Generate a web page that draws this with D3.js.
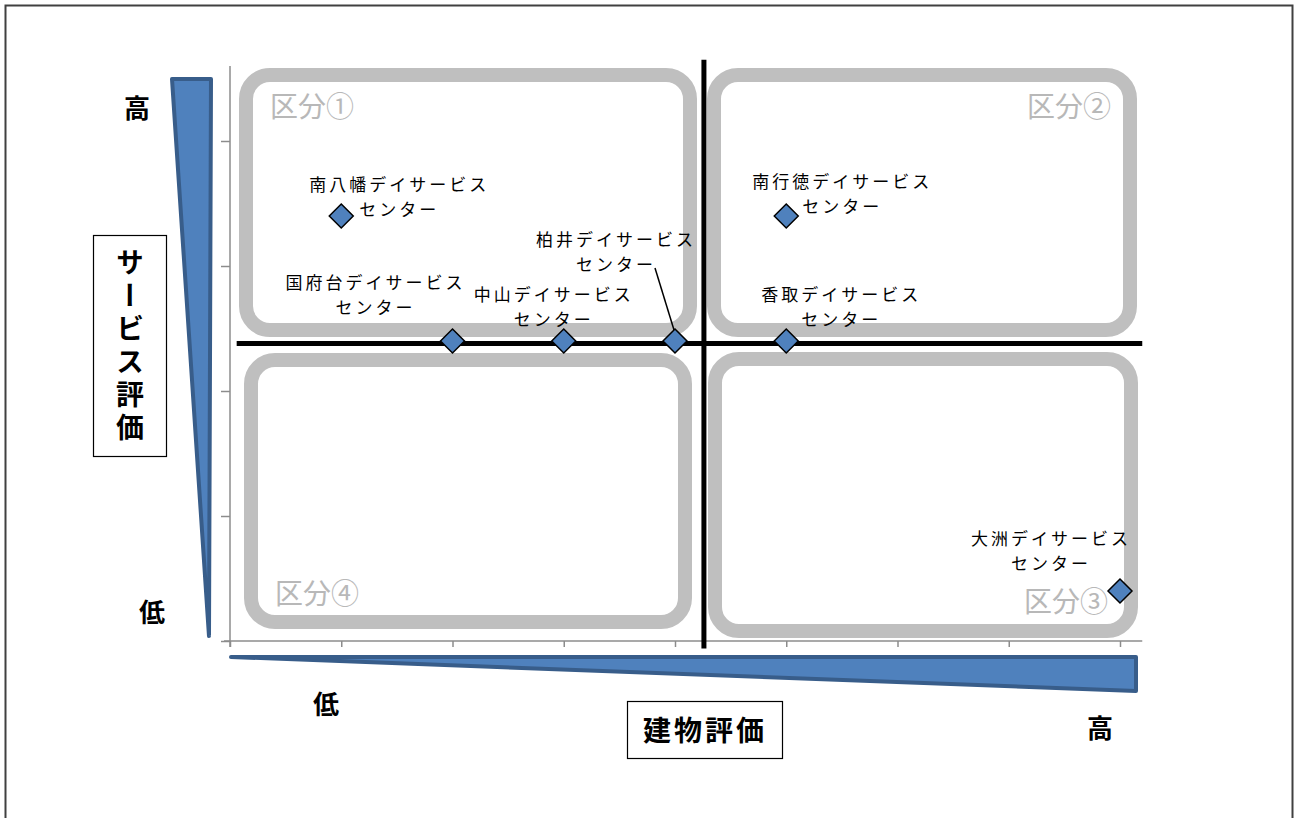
<!DOCTYPE html>
<html>
<head>
<meta charset="utf-8">
<script src="https://cdn.jsdelivr.net/npm/d3@7"></script>
<style>
  body { margin: 0; background: #fff; }
  text { font-family: "Noto Sans CJK JP", "Noto Sans", sans-serif; }
</style>
</head>
<body>
<svg id="chart"></svg>
<script>
var w = 1296;
var h = 818;

// facility names and scores (building score, service score)
var names = ["南八幡", "南行徳", "国府台", "中山", "柏井", "香取", "大洲"];
var buildingScore = [1, 5, 2, 3, 4, 5, 8];
var serviceScore = [3.4, 3.4, 2.4, 2.4, 2.4, 2.4, 0.4];
var xTicks = [0, 1, 2, 3, 4, 5, 6, 7, 8];
var yTicks = [0, 1, 2, 3, 4];
var divideX = 4.26;   // vertical divider (building score)
var divideY = 2.38;   // horizontal divider (service score)
var quadrantNames = ["区分①", "区分②", "区分③", "区分④"];

// label placement (pixels offset from the point)
var labelPos = [
	{ dx: 58, dy: -25 },
	{ dx: 56, dy: -28 },
	{ dx: -77, dy: -52 },
	{ dx: -10, dy: -40 },
	{ dx: -59, dy: -95 },
	{ dx: 55, dy: -40 },
	{ dx: -69, dy: -46 }
];

var svg = d3.select("#chart")
	.attr("width", w)
	.attr("height", h);

// outer frame
svg.append("rect")
	.attr("x", 5.5).attr("y", 5.5)
	.attr("width", 1287).attr("height", 830)
	.attr("fill", "none")
	.attr("stroke", "#404040")
	.attr("stroke-width", 2);

var x = d3.scaleLinear().domain([0, 8]).range([230, 1120]);
var y = d3.scaleLinear().domain([0, 4]).range([641, 141]);

// quadrant boxes (rounded, grey)
var boxes = [
	{ x0: 246, y0: 75, x1: 690, y1: 330, name: quadrantNames[0], tx: 270, ty: 117, anchor: "start" },
	{ x0: 714, y0: 75, x1: 1130, y1: 330, name: quadrantNames[1], tx: 1111, ty: 117, anchor: "end" },
	{ x0: 715, y0: 359, x1: 1131, y1: 631, name: quadrantNames[2], tx: 1108, ty: 612, anchor: "end" },
	{ x0: 251, y0: 360, x1: 685, y1: 622, name: quadrantNames[3], tx: 275, ty: 604, anchor: "start" }
];

svg.selectAll(".box")
	.data(boxes)
	.enter().append("rect")
	.attr("class", "box")
	.attr("x", d => d.x0)
	.attr("y", d => d.y0)
	.attr("width", d => d.x1 - d.x0)
	.attr("height", d => d.y1 - d.y0)
	.attr("rx", 24).attr("ry", 24)
	.attr("fill", "none")
	.attr("stroke", "#bfbfbf")
	.attr("stroke-width", 14);

svg.selectAll(".qname")
	.data(boxes)
	.enter().append("text")
	.attr("class", "qname")
	.attr("x", d => d.tx)
	.attr("y", d => d.ty)
	.attr("text-anchor", d => d.anchor)
	.attr("font-size", 28)
	.attr("fill", "#b8b8b8")
	.text(d => d.name);

// axes
var xAxis = d3.axisBottom(x).tickValues(xTicks).tickSize(6).tickFormat("");
var yAxis = d3.axisLeft(y).tickValues(yTicks).tickSize(9).tickFormat("");

var gx = svg.append("g").attr("transform", "translate(0," + y(0) + ")").call(xAxis);
gx.select(".domain").attr("d", "M" + (x(0) - 6) + ",0H" + x(8.2));
var gy = svg.append("g").attr("transform", "translate(" + x(0) + ",0)").call(yAxis);
gy.select(".domain").attr("d", "M0," + y(4.6) + "V" + (y(0) + 6));
svg.selectAll(".domain, .tick line")
	.attr("stroke", "#8c8c8c")
	.attr("stroke-width", 1.5);

// divider lines
svg.append("line")
	.attr("x1", x(0.06)).attr("x2", x(8.2))
	.attr("y1", y(divideY)).attr("y2", y(divideY))
	.attr("stroke", "#000").attr("stroke-width", 5);
svg.append("line")
	.attr("x1", x(divideX)).attr("x2", x(divideX))
	.attr("y1", y(4.65)).attr("y2", y(-0.06))
	.attr("stroke", "#000").attr("stroke-width", 5);

// points
var points = names.map((n, i) => ({
	name: n,
	bx: buildingScore[i],
	sy: serviceScore[i],
	dx: labelPos[i].dx,
	dy: labelPos[i].dy
}));

// leader line for 柏井
var kashii = points[4];
svg.append("line")
	.attr("x1", x(kashii.bx) - 20).attr("y1", y(kashii.sy) - 73)
	.attr("x2", x(kashii.bx) + 3).attr("y2", y(kashii.sy) + 2)
	.attr("stroke", "#000").attr("stroke-width", 1.5);

svg.selectAll(".pt")
	.data(points)
	.enter().append("path")
	.attr("class", "pt")
	.attr("d", "M0,-12L12,0L0,12L-12,0Z")
	.attr("transform", d => "translate(" + x(d.bx) + "," + y(d.sy) + ")")
	.attr("fill", "#4f81bd")
	.attr("stroke", "#000")
	.attr("stroke-width", 1.5);

var labels = svg.selectAll(".lbl")
	.data(points)
	.enter().append("text")
	.attr("class", "lbl")
	.attr("text-anchor", "middle")
	.attr("font-size", 17)
	.attr("letter-spacing", 3)
	.attr("fill", "#000");
labels.append("tspan")
	.attr("x", d => x(d.bx) + d.dx)
	.attr("y", d => y(d.sy) + d.dy)
	.text(d => d.name + "デイサービス");
labels.append("tspan")
	.attr("x", d => x(d.bx) + d.dx)
	.attr("y", d => y(d.sy) + d.dy + 25)
	.text("センター");

// wedges (blue arrows for axis direction)
var wedge = d3.line();
svg.append("path")
	.attr("d", wedge([[172, 79], [211, 79], [209, 636]]) + "Z")
	.attr("fill", "#4f81bd")
	.attr("stroke", "#385d8a")
	.attr("stroke-width", 4)
	.attr("stroke-linejoin", "round");
svg.append("path")
	.attr("d", wedge([[231, 657], [1136, 657], [1136, 691]]) + "Z")
	.attr("fill", "#4f81bd")
	.attr("stroke", "#385d8a")
	.attr("stroke-width", 4)
	.attr("stroke-linejoin", "round");

// high / low marks
var marks = [
	{ t: "高", x: 137, y: 118 },
	{ t: "低", x: 152, y: 622 },
	{ t: "低", x: 326, y: 714 },
	{ t: "高", x: 1100, y: 738 }
];
svg.selectAll(".mark")
	.data(marks)
	.enter().append("text")
	.attr("class", "mark")
	.attr("x", d => d.x)
	.attr("y", d => d.y)
	.attr("text-anchor", "middle")
	.attr("font-size", 26)
	.attr("font-weight", "bold")
	.text(d => d.t);

// axis title boxes
svg.append("rect")
	.attr("x", 93.5).attr("y", 235.5)
	.attr("width", 73).attr("height", 221)
	.attr("fill", "#fff").attr("stroke", "#000").attr("stroke-width", 1.2);
svg.append("text")
	.attr("x", 130)
	.attr("y", 248)
	.style("writing-mode", "vertical-rl")
	.attr("font-size", 28)
	.attr("font-weight", "bold")
	.attr("letter-spacing", 5)
	.text("サービス評価");

svg.append("rect")
	.attr("x", 627.5).attr("y", 701.5)
	.attr("width", 155).attr("height", 57)
	.attr("fill", "#fff").attr("stroke", "#000").attr("stroke-width", 1.2);
svg.append("text")
	.attr("x", 705)
	.attr("y", 741)
	.attr("text-anchor", "middle")
	.attr("font-size", 28)
	.attr("font-weight", "bold")
	.attr("letter-spacing", 3)
	.text("建物評価");
</script>
</body>
</html>
